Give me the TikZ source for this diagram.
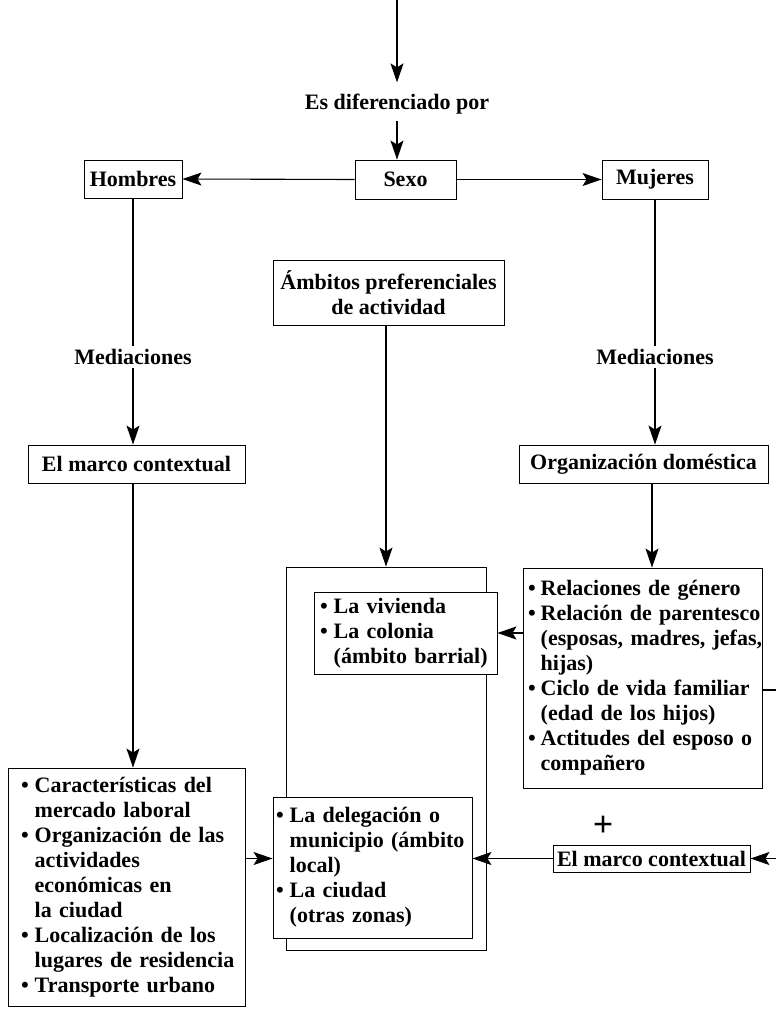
\documentclass[tikz,border=0pt]{standalone}
\usepackage{fontspec}
\setmainfont{Liberation Serif}
\usetikzlibrary{arrows.meta}

\newcommand{\bul}{\textbullet}

\begin{document}
\begin{tikzpicture}[x=1pt, y=-1pt,
  every node/.style={font=\fontsize{22}{25}\selectfont\bfseries},
  box/.style={draw, line width=0.9pt, fill=white, inner sep=0pt},
  lst/.style={box, align=left, inner xsep=#1},
  arr/.style={-{Stealth[length=19pt, width=13pt, inset=4pt]}, line width=1.1pt},
  ln/.style={line width=1.1pt}]
  \useasboundingbox (0,0) rectangle (776,1009);

  % top of the chain
  \coordinate (top) at (397,0);
  \node (dif) at (397,104) {Es diferenciado por};
  \node[box, minimum width=101, minimum height=39] (sexo) at (405.5,179.5) {Sexo};
  \node[box, minimum width=98, minimum height=38] (hom) at (133,179) {Hombres};
  \node[box, minimum width=106, minimum height=39] (muj) at (655,179.5) {Mujeres};

  % middle column
  \node[box, minimum width=231, minimum height=65, align=center] (amb) at (388.5,292.5)
    {Ámbitos preferenciales\\de actividad};
  \node[box, fill=none, minimum width=200, minimum height=383] (esp) at (386,758.5) {};
  \node[lst=6, text width=171, minimum height=82] (viv) at (405.5,633)
    {\begin{tabular}{@{}l@{\hspace{6pt}}l@{}}
      \bul & La vivienda\\
      \bul & La colonia\\
           & (ámbito barrial)
     \end{tabular}};
  \node[lst=3, text width=193, minimum height=141] (dele) at (372.5,867.5)
    {\begin{tabular}{@{}l@{\hspace{6pt}}l@{}}
      \bul & La delegación o\\
           & municipio (ámbito\\
           & local)\\
      \bul & La ciudad\\
           & (otras zonas)
     \end{tabular}};

  % left column
  \node (medL) at (133,357) {Mediaciones};
  \node[box, minimum width=217, minimum height=38] (marcoL) at (136.5,464) {El marco contextual};
  \node[lst=13, text width=211, minimum height=238] (lista) at (126.5,887)
    {\begin{tabular}{@{}l@{\hspace{6pt}}l@{}}
      \bul & Características del\\
           & mercado laboral\\
      \bul & Organización de las\\
           & actividades\\
           & económicas en\\
           & la ciudad\\
      \bul & Localización de los\\
           & lugares de residencia\\
      \bul & Transporte urbano
     \end{tabular}};

  % right column
  \node (medR) at (655,357) {Mediaciones};
  \node[box, minimum width=249, minimum height=38] (org) at (643.5,464) {Organización doméstica};
  \node[lst=5, text width=229, minimum height=220] (rel) at (642.5,678)
    {\begin{tabular}{@{}l@{\hspace{5pt}}l@{}}
      \bul & Relaciones de género\\
      \bul & Relación de parentesco\\
           & (esposas, madres, jefas,\\
           & hijas)\\
      \bul & Ciclo de vida familiar\\
           & (edad de los hijos)\\
      \bul & Actitudes del esposo o\\
           & compañero
     \end{tabular}};
  \node (mas) at (603,826) {\fontsize{36}{36}\selectfont +};
  \node[box, minimum width=197, minimum height=27] (marcoR) at (651.5,858.5) {El marco contextual};
  \coordinate (bordeA) at (776,690);
  \coordinate (bordeB) at (776,858.5);

  % connectors
  \draw[arr] (top) -- ([yshift=8pt]dif.north);
  \draw[arr] ([yshift=-3pt]dif.south) -- (dif.south |- sexo.north);
  \draw[arr] (sexo.west) -- (hom.east);
  \draw[arr] (sexo.east) -- (muj.west);
  \draw[ln] (hom.south) -- (medL.north);
  \draw[arr] (medL.south) -- (medL.south |- marcoL.north);
  \draw[arr] (medL.south |- marcoL.south) -- (medL.south |- lista.north);
  \draw[ln] (muj.south) -- (medR.north);
  \draw[arr] (medR.south) -- (medR.south |- org.north);
  \draw[arr] ([xshift=8.5pt]org.south) -- ([xshift=8.5pt]org.south |- rel.north);
  \draw[arr] (amb.south -| esp.north) -- (esp.north);
  \draw[arr] (viv.east -| rel.west) -- (viv.east);
  \draw[ln] (bordeA -| rel.east) -- (bordeA);
  \draw[arr] (marcoR.west) -- (marcoR.west -| dele.east);
  \draw[arr] (bordeB) -- (marcoR.east);
  \draw[arr] (lista.east |- marcoR.west) -- (dele.west |- marcoR.west);
\end{tikzpicture}
\end{document}
